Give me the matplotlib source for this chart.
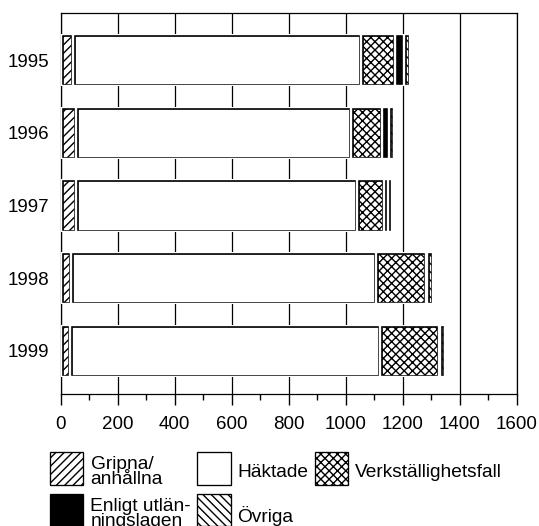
import numpy as np
import matplotlib
matplotlib.use("Agg")
import matplotlib.pyplot as plt
from matplotlib.patches import Rectangle

plt.rcParams['font.family'] = ['Liberation Sans', 'DejaVu Sans']
plt.rcParams['hatch.linewidth'] = 1.0

# data (number of persons per year)
years = ["1995", "1996", "1997", "1998", "1999"]
gripna = [42, 52, 52, 37, 32]
haktade = [1011, 968, 987, 1068, 1087]
verkst = [119, 106, 94, 177, 207]
enligt = [31, 26, 14, 5, 4]
ovriga = [21, 16, 17, 21, 20]

series = [
    ("Gripna/\nanhållna", gripna, "white", "////"),
    ("Häktade", haktade, "white", None),
    ("Verkställighetsfall", verkst, "white", "xxxx"),
    ("Enligt utlän-\nningslagen", enligt, "black", None),
    ("Övriga", ovriga, "white", "\\\\\\\\"),
]

W, H = 539, 526
fig = plt.figure(figsize=(W / 100, H / 100), dpi=100)
ax = fig.add_axes([0.1126, 0.2504, 0.846, 0.7249])

ypos = np.arange(len(years))
left = np.zeros(len(years))
bar_h = 0.72
for name, vals, fc, hatch in series:
    vals = np.array(vals, dtype=float)
    # black border, clipped to the bar itself so only the inner half shows
    bars = ax.barh(ypos, vals, left=left, height=bar_h, color=fc,
                   hatch=hatch, edgecolor="black", linewidth=3.4, zorder=2)
    for p in bars:
        p.set_clip_path(p)
    # thin white rim inside -> gaps between the segments
    rim = ax.barh(ypos, vals, left=left, height=bar_h, fill=False,
                  edgecolor="white", linewidth=1.7, zorder=3)
    for p in rim:
        p.set_clip_path(p)
    left += vals

ax.set_xlim(0, 1600)
ax.set_ylim(4.6, -0.65)
ax.set_xticks(np.arange(0, 1601, 200))
ax.set_xticks(np.arange(0, 1601, 100), minor=True)
ax.set_yticks(ypos)
ax.set_yticklabels(years)
ax.tick_params(axis="x", which="major", direction="out", length=7.7,
               width=1.0, pad=8, labelsize=13.5)
ax.tick_params(axis="x", which="minor", direction="out", length=4,
               width=1.0)
ax.tick_params(axis="y", length=0, pad=8.3, labelsize=13.5)

ax.set_axisbelow(True)
ax.grid(axis="x", which="major", color="black", linewidth=0.9)
for s in ax.spines.values():
    s.set_linewidth(0.9)

# legend drawn by hand (pixel layout: handle left, handle top,
# baseline of the last text line)
legend_pos = [
    (50, 452, 484.5),     # Gripna
    (197, 452, 477.3),    # Häktade
    (314.5, 452, 477.3),  # Verkställighetsfall
    (50, 493.5, 526.5),   # Enligt utlänningslagen
    (197, 493.5, 521.5),  # Övriga
]
hw, hh = 33.5, 32.5
for (name, vals, fc, hatch), (hx, hy, tb) in zip(series, legend_pos):
    r = Rectangle((hx / W, 1 - (hy + hh) / H), hw / W, hh / H,
                  transform=fig.transFigure, facecolor=fc, edgecolor="black",
                  hatch=hatch, linewidth=0.95)
    fig.add_artist(r)
    fig.text((hx + hw + 7) / W, 1 - tb / H, name, fontsize=13.8,
             va="baseline", ha="left", linespacing=0.86)

fig.savefig("out.png", dpi=100)
